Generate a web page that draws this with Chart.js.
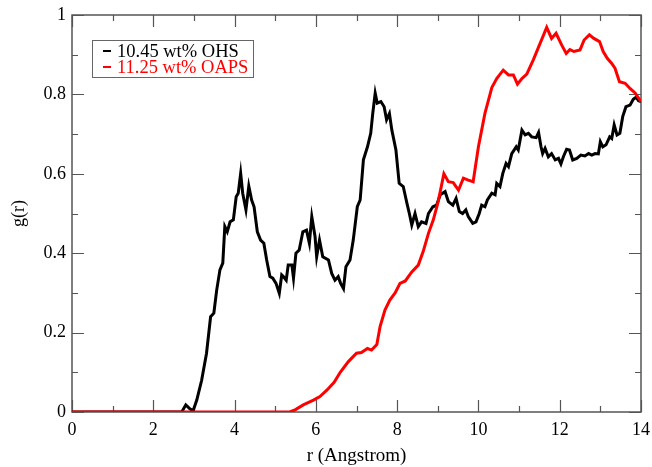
<!DOCTYPE html>
<html>
<head>
<meta charset="utf-8">
<script src="https://cdn.jsdelivr.net/npm/chart.js@4"></script>
<style>
  html, body { margin: 0; padding: 0; background: #fff; }
</style>
</head>
<body>
<canvas id="rdf" width="652" height="467"></canvas>
<script>
// g(r) curves
var ohsR = [0,2.7,2.8,2.9,2.98,3.07,3.19,3.31,3.41,3.49,
  3.56,3.64,3.71,3.76,3.82,3.89,3.97,4.04,4.09,4.15,
  4.2,4.28,4.35,4.42,4.48,4.56,4.64,4.72,4.79,4.87,
  4.94,5.02,5.1,5.16,5.2,5.27,5.32,5.41,5.45,5.51,
  5.59,5.68,5.77,5.84,5.9,5.98,6.02,6.09,6.17,6.31,
  6.39,6.47,6.55,6.61,6.68,6.74,6.84,6.92,7.02,7.09,
  7.17,7.27,7.35,7.4,7.46,7.51,7.6,7.68,7.74,7.81,
  7.87,7.97,8.05,8.15,8.24,8.3,8.36,8.44,8.52,8.6,
  8.71,8.77,8.88,8.97,9.06,9.18,9.26,9.37,9.45,9.53,
  9.61,9.69,9.75,9.86,9.94,10.02,10.08,10.16,10.22,10.33,
  10.41,10.45,10.53,10.6,10.68,10.74,10.82,10.93,10.98,11.07,
  11.15,11.23,11.31,11.42,11.48,11.54,11.58,11.64,11.72,11.8,
  11.89,11.97,12.03,12.09,12.17,12.24,12.32,12.42,12.52,12.62,
  12.71,12.79,12.87,12.95,13.0,13.06,13.14,13.23,13.28,13.34,
  13.41,13.48,13.55,13.63,13.73,13.81,13.88,13.94,14.0]
var ohsG = [0,0,0.018,0.008,0.003,0.03,0.08,0.148,0.24,0.249,
  0.307,0.358,0.375,0.467,0.454,0.479,0.484,0.542,0.551,0.601,
  0.551,0.509,0.569,0.534,0.517,0.454,0.433,0.425,0.383,0.341,
  0.337,0.324,0.299,0.345,0.341,0.332,0.37,0.37,0.337,0.4,
  0.408,0.454,0.458,0.425,0.492,0.442,0.391,0.433,0.391,0.383,
  0.349,0.332,0.341,0.324,0.311,0.366,0.383,0.433,0.517,0.534,
  0.635,0.668,0.702,0.752,0.803,0.778,0.782,0.769,0.736,0.752,
  0.71,0.66,0.576,0.568,0.526,0.5,0.471,0.5,0.467,0.479,
  0.475,0.5,0.517,0.521,0.547,0.555,0.53,0.521,0.538,0.505,
  0.5,0.509,0.492,0.475,0.479,0.5,0.521,0.517,0.534,0.551,
  0.547,0.576,0.568,0.601,0.626,0.618,0.651,0.668,0.66,0.71,
  0.698,0.702,0.693,0.691,0.704,0.668,0.651,0.664,0.643,0.651,
  0.635,0.639,0.625,0.643,0.662,0.66,0.635,0.639,0.647,0.645,
  0.651,0.647,0.651,0.65,0.681,0.668,0.673,0.693,0.689,0.723,
  0.698,0.702,0.744,0.769,0.773,0.788,0.793,0.784,0.782]

var oapsR = [0,5.36,5.5,5.69,5.94,6.1,6.27,6.45,6.6,6.8,
  7.0,7.12,7.27,7.37,7.5,7.58,7.7,7.82,7.95,8.07,
  8.2,8.36,8.52,8.64,8.77,8.89,9.01,9.15,9.26,9.38,
  9.51,9.63,9.75,9.87,10.0,10.16,10.33,10.45,10.61,10.74,
  10.86,10.96,11.07,11.19,11.35,11.52,11.68,11.8,11.91,12.05,
  12.16,12.25,12.35,12.5,12.6,12.73,12.84,12.98,13.07,13.17,
  13.28,13.36,13.47,13.61,13.73,13.86,14.0]
var oapsG = [0,0,0.006,0.018,0.03,0.039,0.055,0.075,0.1,0.127,
  0.148,0.15,0.16,0.156,0.17,0.215,0.257,0.282,0.3,0.324,
  0.33,0.353,0.37,0.404,0.45,0.484,0.53,0.6,0.58,0.578,
  0.559,0.589,0.584,0.58,0.668,0.752,0.817,0.84,0.861,0.849,
  0.849,0.826,0.84,0.851,0.887,0.929,0.969,0.941,0.954,0.924,
  0.903,0.913,0.908,0.912,0.937,0.95,0.941,0.933,0.908,0.891,
  0.878,0.866,0.832,0.828,0.815,0.803,0.782]

var xTicks = [0, 2, 4, 6, 8, 10, 12, 14]
var yTicks = [0, 0.2, 0.4, 0.6, 0.8, 1]

function pts(xs, ys) {
  return xs.map(function (x, i) { return {x: x, y: ys[i]} })
}

Chart.defaults.font.family = "'Liberation Serif', 'Times New Roman', serif"
Chart.defaults.color = '#000'

// frame with inward major/minor ticks, xmgrace style
var frame = {
  id: 'frame',
  beforeDatasetsDraw: function (chart) {
    var ctx = chart.ctx, a = chart.chartArea
    var sx = chart.scales.x, sy = chart.scales.y
    ctx.save()
    ctx.strokeStyle = '#555'
    ctx.lineWidth = 1.5
    ctx.strokeRect(a.left, a.top, a.right - a.left, a.bottom - a.top)
    ctx.lineWidth = 1.2
    ctx.beginPath()
    for (var i = 0; i < xTicks.length; i++) {
      var steps = [[xTicks[i], 12]]
      if (i < xTicks.length - 1) steps.push([(xTicks[i] + xTicks[i + 1]) / 2, 6])
      steps.forEach(function (s) {
        var px = Math.round(sx.getPixelForValue(s[0])) + 0.5
        ctx.moveTo(px, a.bottom); ctx.lineTo(px, a.bottom - s[1])
        ctx.moveTo(px, a.top); ctx.lineTo(px, a.top + s[1])
      })
    }
    for (var j = 0; j < yTicks.length; j++) {
      var st = [[yTicks[j], 12]]
      if (j < yTicks.length - 1) st.push([(yTicks[j] + yTicks[j + 1]) / 2, 6])
      st.forEach(function (s) {
        var py = Math.round(sy.getPixelForValue(s[0])) + 0.5
        ctx.moveTo(a.left, py); ctx.lineTo(a.left + s[1], py)
        ctx.moveTo(a.right, py); ctx.lineTo(a.right - s[1], py)
      })
    }
    ctx.stroke()
    ctx.restore()
  }
}

// boxed legend inside the plot, upper left
var boxLegend = {
  id: 'boxLegend',
  afterDraw: function (chart) {
    var ctx = chart.ctx, a = chart.chartArea
    var x0 = a.left + 20, y0 = a.top + 25, w = 161, h = 37
    ctx.save()
    ctx.fillStyle = '#fff'
    ctx.fillRect(x0, y0, w, h)
    ctx.strokeStyle = '#666'
    ctx.lineWidth = 1
    ctx.strokeRect(x0 + 0.5, y0 + 0.5, w, h)
    ctx.font = "18.5px 'Liberation Serif'"
    ctx.textBaseline = 'middle'
    chart.data.datasets.forEach(function (ds, k) {
      var cy = y0 + 11 + k * 16
      ctx.strokeStyle = ds.borderColor
      ctx.lineWidth = 2
      ctx.beginPath(); ctx.moveTo(x0 + 11, cy); ctx.lineTo(x0 + 19, cy); ctx.stroke()
      ctx.fillStyle = ds.borderColor
      ctx.fillText(ds.label, x0 + 25, cy + 1)
    })
    ctx.restore()
  }
}

new Chart(document.getElementById('rdf').getContext('2d'), {
  type: 'line',
  data: {
    datasets: [
      { label: '10.45 wt% OHS', data: pts(ohsR, ohsG), borderColor: '#000000', borderWidth: 3, pointRadius: 0, order: 1 },
      { label: '11.25 wt% OAPS', data: pts(oapsR, oapsG), borderColor: '#ff0000', borderWidth: 3, pointRadius: 0, order: 0 }
    ]
  },
  options: {
    responsive: false,
    animation: false,
    layout: { padding: { left: 0, top: 15, right: 11, bottom: 0 } },
    plugins: { legend: { display: false }, tooltip: { enabled: false } },
    scales: {
      x: {
        type: 'linear', min: 0, max: 14,
        afterBuildTicks: function (s) { s.ticks = xTicks.map(function (v) { return {value: v} }) },
        afterFit: function (s) { s.height = 55; s.paddingLeft = 0; s.paddingRight = 0 },
        grid: { display: false, drawTicks: false },
        border: { display: false },
        ticks: { font: { size: 18 }, padding: 7, maxRotation: 0 },
        title: { display: true, text: 'r (Angstrom)', font: { size: 19 }, padding: { top: 0, bottom: 0 } }
      },
      y: {
        min: 0, max: 1,
        afterBuildTicks: function (s) { s.ticks = yTicks.map(function (v) { return {value: v} }) },
        afterFit: function (s) { s.width = 72; s.paddingTop = 0; s.paddingBottom = 0 },
        grid: { display: false, drawTicks: false },
        border: { display: false },
        ticks: { font: { size: 18 }, padding: 6, callback: function (v) { return String(Number(v.toFixed(1))) } },
        title: { display: true, text: 'g(r)', font: { size: 18 }, padding: { top: 8, bottom: 0 } }
      }
    }
  },
  plugins: [frame, boxLegend]
})
</script>
</body>
</html>
